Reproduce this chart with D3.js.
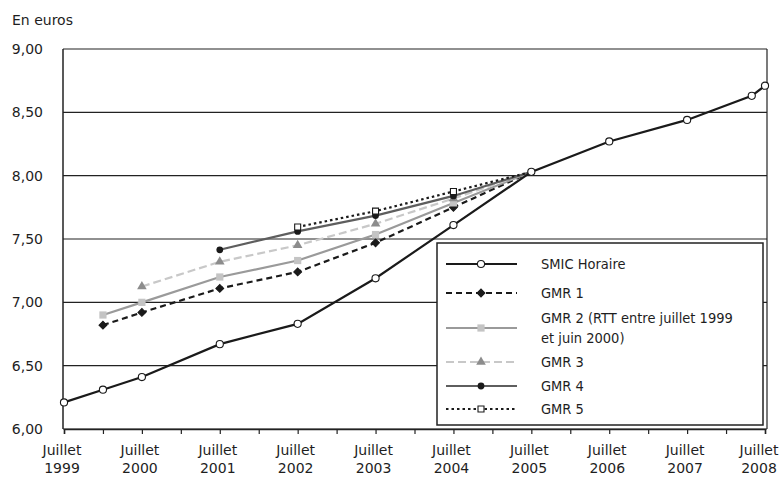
<!DOCTYPE html>
<html>
<head>
<meta charset="utf-8">
<script src="https://cdn.jsdelivr.net/npm/d3@7"></script>
<style>
  body { margin: 0; background: #fff; }
  svg text { font-family: "DejaVu Sans", sans-serif; fill: #1e1e1e; font-size: 14px; }
  svg .legend text { font-family: "DejaVu Sans Condensed", "DejaVu Sans", sans-serif; font-size: 14.5px; }
</style>
</head>
<body>
<svg id="chart" width="781" height="477"></svg>
<script>
// data (dates as decimal years, 0.5 = July)
var smicDates = [1999.5, 2000.0, 2000.5, 2001.5, 2002.5, 2003.5, 2004.5, 2005.5, 2006.5, 2007.5, 2008.33, 2008.5];
var smicValues = [6.21, 6.31, 6.41, 6.67, 6.83, 7.19, 7.61, 8.03, 8.27, 8.44, 8.63, 8.71];

var gmr1Dates = [2000.0, 2000.5, 2001.5, 2002.5, 2003.5, 2004.5, 2005.5];
var gmr1Values = [6.82, 6.92, 7.11, 7.24, 7.47, 7.75, 8.03];

var gmr2Dates = [2000.0, 2000.5, 2001.5, 2002.5, 2003.5, 2004.5, 2005.5];
var gmr2Values = [6.90, 7.00, 7.20, 7.33, 7.535, 7.785, 8.03];

var gmr3Dates = [2000.5, 2001.5, 2002.5, 2003.5, 2004.5, 2005.5];
var gmr3Values = [7.125, 7.32, 7.45, 7.62, 7.82, 8.03];

var gmr4Dates = [2001.5, 2002.5, 2003.5, 2004.5, 2005.5];
var gmr4Values = [7.415, 7.56, 7.685, 7.84, 8.03];

var gmr5Dates = [2002.5, 2003.5, 2004.5, 2005.5];
var gmr5Values = [7.595, 7.72, 7.875, 8.03];

var labelYears = [1999, 2000, 2001, 2002, 2003, 2004, 2005, 2006, 2007, 2008];
var yTicks = [6, 6.5, 7, 7.5, 8, 8.5, 9];

var legendNames = ["SMIC Horaire", "GMR 1", "GMR 2 (RTT entre juillet 1999|et juin 2000)", "GMR 3", "GMR 4", "GMR 5"];

var margin = {top: 49, right: 14, bottom: 48, left: 63};
var width = 781 - margin.left - margin.right;
var height = 477 - margin.top - margin.bottom;

var x = d3.scaleLinear().domain([1999.5, 2008.5]).range([1, width - 2]);
var y = d3.scaleLinear().domain([6, 9]).range([height, 0]);

var svg = d3.select('#chart');
var g = svg.append('g').attr('transform', 'translate(' + margin.left + ',' + margin.top + ')');

svg.append('text')
    .attr('x', 12).attr('y', 25)
    .text('En euros');

// horizontal grid + frame
g.append('g').selectAll('line').data(yTicks).enter().append('line')
    .attr('x1', 0).attr('x2', width)
    .attr('y1', function(d) { return y(d); })
    .attr('y2', function(d) { return y(d); })
    .attr('stroke', '#222').attr('stroke-width', 1.2);

g.append('line').attr('x1', 0).attr('x2', 0).attr('y1', 0).attr('y2', height)
    .attr('stroke', '#222').attr('stroke-width', 1.5);
g.append('line').attr('x1', width).attr('x2', width).attr('y1', 0).attr('y2', height)
    .attr('stroke', '#222').attr('stroke-width', 1.2);

// y labels
g.append('g').selectAll('text').data(yTicks).enter().append('text')
    .attr('x', -20).attr('y', function(d) { return y(d); })
    .attr('dy', '0.35em')
    .attr('text-anchor', 'end')
    .text(function(d) { return d3.format('.2f')(d).replace('.', ','); });

// x axis: ticks every half year
var halfYears = d3.range(0, 19).map(function(i) { return 1999.5 + i / 2; });
g.append('g')
    .attr('transform', 'translate(0,' + height + ')')
    .call(d3.axisBottom(x).tickValues(halfYears).tickSize(5).tickFormat(''))
    .call(function(s) {
      s.select('.domain').attr('stroke', '#222').attr('stroke-width', 1.5);
      s.selectAll('.tick line').attr('stroke', '#222').attr('stroke-width', 1.2);
    });

var xl = g.append('g').selectAll('text').data(labelYears).enter().append('text')
    .attr('text-anchor', 'middle')
    .attr('transform', function(d, i) {
      var px = x(d + 0.5) - 2;
      if (i === labelYears.length - 1) px = Math.min(px, 781 - margin.left - 22);
      return 'translate(' + px + ',' + (height + 26) + ')';
    });
xl.append('tspan').attr('x', 0).text('Juillet');
xl.append('tspan').attr('x', 0).attr('dy', 18).text(function(d) { return d; });

// series
var series = [
  {dates: gmr1Dates, values: gmr1Values, stroke: '#1a1a1a', dash: '6,4', marker: 'diamond', fill: '#1a1a1a', mstroke: '#1a1a1a'},
  {dates: gmr2Dates, values: gmr2Values, stroke: '#9a9a9a', dash: null, marker: 'square', fill: '#c4c4c4', mstroke: 'none'},
  {dates: gmr3Dates, values: gmr3Values, stroke: '#c8c8c8', dash: '8,4', marker: 'triangle', fill: '#8c8c8c', mstroke: 'none'},
  {dates: gmr4Dates, values: gmr4Values, stroke: '#5e5e5e', dash: null, marker: 'circle', fill: '#1a1a1a', mstroke: 'none'},
  {dates: gmr5Dates, values: gmr5Values, stroke: '#1a1a1a', dash: '2.5,3', marker: 'square', fill: '#fff', mstroke: '#1a1a1a', open: true},
  {dates: smicDates, values: smicValues, stroke: '#1a1a1a', dash: null, marker: 'circle', fill: '#fff', mstroke: '#1a1a1a', open: true, all: true}
];

function symbolPath(s) {
  if (s.marker === 'diamond') return d3.symbol().type(d3.symbolSquare).size(30)();
  if (s.marker === 'triangle') return d3.symbol().type(d3.symbolTriangle).size(40)();
  if (s.marker === 'square') return d3.symbol().type(d3.symbolSquare).size(s.open ? 36 : 52)();
  return d3.symbol().type(d3.symbolCircle).size(s.open ? 40 : 36)();
}
function markerTransform(s, px, py) {
  return 'translate(' + px + ',' + py + ')' + (s.marker === 'diamond' ? ' rotate(45)' : '');
}

var line = d3.line()
    .x(function(d) { return x(d[0]); })
    .y(function(d) { return y(d[1]); });

series.forEach(function(s) {
  var pts = d3.zip(s.dates, s.values);
  g.append('path').datum(pts)
      .attr('fill', 'none')
      .attr('stroke', s.stroke)
      .attr('stroke-width', 2.2)
      .attr('stroke-dasharray', s.dash)
      .attr('d', line);
  // GMR series join the SMIC in July 2005, no own marker there
  var marked = s.all ? pts : pts.slice(0, -1);
  g.append('g').selectAll('path').data(marked).enter().append('path')
      .attr('transform', function(d) { return markerTransform(s, x(d[0]), y(d[1])); })
      .attr('d', symbolPath(s))
      .attr('fill', s.fill)
      .attr('stroke', s.mstroke)
      .attr('stroke-width', 1.1);
});

// legend
var legendOrder = [5, 0, 1, 2, 3, 4];
var rowY = [21, 50, 85, 119, 143, 166];
var leg = svg.append('g').attr('class', 'legend').attr('transform', 'translate(437,243)');
leg.append('rect').attr('width', 326).attr('height', 182)
    .attr('fill', '#fff').attr('stroke', '#222').attr('stroke-width', 1.5);

legendNames.forEach(function(name, i) {
  var s = series[legendOrder[i]];
  var row = leg.append('g').attr('transform', 'translate(0,' + rowY[i] + ')');
  row.append('line').attr('x1', 9).attr('x2', 80)
      .attr('stroke', s.stroke).attr('stroke-width', 2.2)
      .attr('stroke-dasharray', s.dash);
  row.append('path').attr('transform', markerTransform(s, 44, 0))
      .attr('d', symbolPath(s))
      .attr('fill', s.fill).attr('stroke', s.mstroke).attr('stroke-width', 1.1);
  var parts = name.split('|');
  var t = row.append('text').attr('x', 104)
      .attr('y', parts.length > 1 ? -10 : 0);
  parts.forEach(function(p, j) {
    t.append('tspan').attr('x', 104).attr('dy', j === 0 ? '0.35em' : 20).text(p);
  });
});
</script>
</body>
</html>
